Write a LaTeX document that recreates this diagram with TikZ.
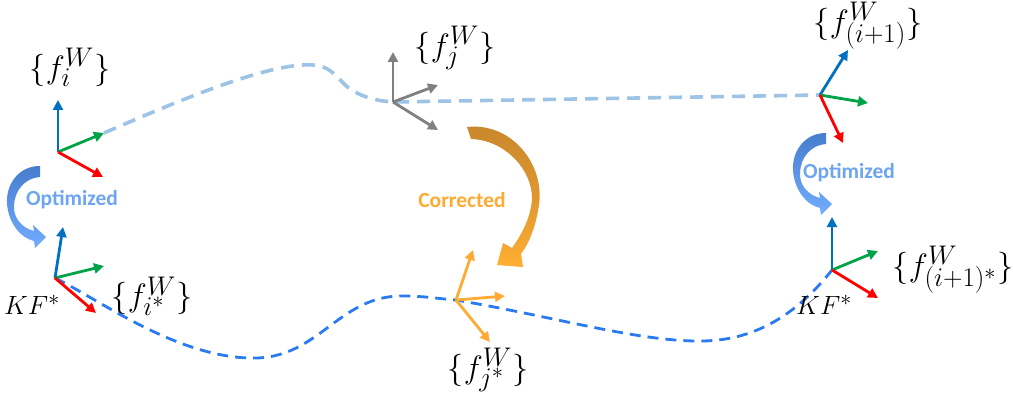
\documentclass[tikz,border=0pt]{standalone}
\usepackage{fontspec}
\newfontfamily\calib{Carlito}
\usetikzlibrary{arrows.meta}
\definecolor{axblue}{RGB}{0,112,192}
\definecolor{axgreen}{RGB}{0,163,72}
\definecolor{axred}{RGB}{255,0,0}
\definecolor{axgray}{RGB}{128,128,128}
\definecolor{axorange}{RGB}{255,170,50}
\definecolor{lightdash}{RGB}{157,195,230}
\definecolor{darkdash}{RGB}{42,122,240}
\definecolor{opttext}{RGB}{110,165,240}
\definecolor{optdark}{RGB}{70,125,205}
\definecolor{optlight}{RGB}{115,172,255}
\definecolor{cordark}{RGB}{200,135,45}
\definecolor{corlight}{RGB}{255,175,50}
\newcommand{\biglbl}[1]{\scalebox{1.3}{$#1$}}
\newcommand{\kflbl}[1]{\scalebox{1.06}{$#1$}}
\begin{document}
\begin{tikzpicture}[x=1pt,y=-1pt,
  axis/.style={line width=2.8pt,-{Triangle[length=10pt,width=10pt]}},
  lbl/.style={inner sep=0pt,font=\fontsize{24.88}{30}\selectfont},
  tag/.style={inner sep=0pt,font=\fontsize{21.5}{25}\selectfont\calib\bfseries},
  optarrow/.pic={\path[top color=optdark,bottom color=optlight]
    (0,0) .. controls (-22,0) and (-34,19) .. (-33,37)
    .. controls (-32,56) and (-20,72) .. (-6,75) -- (-5,82) -- (6,71) -- (-7,59) -- (-6,65)
    .. controls (-18,62) and (-27,52) .. (-26,39)
    .. controls (-25,24) and (-15,12) .. (0,11) -- cycle;}
]
\useasboundingbox (0,0) rectangle (1013,404);
% frame origins and tips
\coordinate (o1) at (58,152);  \coordinate (o1b) at (58,100); \coordinate (o1g) at (104,133); \coordinate (o1r) at (103,177);
\coordinate (o2) at (55,278);  \coordinate (o2b) at (63,227); \coordinate (o2g) at (104,266); \coordinate (o2r) at (96,313);
\coordinate (oj) at (393,102); \coordinate (oja) at (393,52); \coordinate (ojb) at (438,85); \coordinate (ojc) at (438,130);
\coordinate (os) at (456,300); \coordinate (osa) at (473,250); \coordinate (osb) at (505,296); \coordinate (osc) at (490,342);
\coordinate (o3) at (820,95);  \coordinate (o3b) at (848,50); \coordinate (o3g) at (868,103); \coordinate (o3r) at (843,143);
\coordinate (o4) at (832,270); \coordinate (o4b) at (832,217); \coordinate (o4g) at (878,251); \coordinate (o4r) at (878,298);
% dashed trajectories
\draw[lightdash,line width=3.6pt,dash pattern=on 13pt off 8pt]
  (o1g) .. controls (180,100) and (270,62) .. (313,65)
  .. controls (335,66) and (340,85) .. (355,92)
  .. controls (368,99) and (380,101) .. (oj) -- (o3);
\draw[darkdash,line width=2.8pt,dash pattern=on 11pt off 7pt]
  (o2) .. controls (100,300) and (180,360) .. (257,358)
  .. controls (320,356) and (340,295) .. (403,296)
  .. controls (425,296) and (440,299) .. (os)
  .. controls (560,318) and (640,342) .. (703,341)
  .. controls (760,340) and (800,310) .. (o4);
% frames
\draw[axis,axblue] (o1) -- (o1b); \draw[axis,axgreen] (o1) -- (o1g); \draw[axis,axred] (o1) -- (o1r);
\draw[axis,axblue] (o2) -- (o2b); \draw[axis,axgreen] (o2) -- (o2g); \draw[axis,axred] (o2) -- (o2r);
\draw[axis,axgray] (oj) -- (oja); \draw[axis,axgray] (oj) -- (ojb); \draw[axis,axgray] (oj) -- (ojc);
\draw[axis,axorange] (os) -- (osa); \draw[axis,axorange] (os) -- (osb); \draw[axis,axorange] (os) -- (osc);
\draw[axis,axblue] (o3) -- (o3b); \draw[axis,axgreen] (o3) -- (o3g); \draw[axis,axred] (o3) -- (o3r);
\draw[axis,axblue] (o4) -- (o4b); \draw[axis,axgreen] (o4) -- (o4g); \draw[axis,axred] (o4) -- (o4r);
% curved arrows
\pic at (40,166) {optarrow};
\pic at (826,133) {optarrow};
\path[top color=cordark,bottom color=corlight,middle color=cordark!60!corlight]
  (467,127) .. controls (512,122) and (545,165) .. (539,205)
  .. controls (536,225) and (530,242) .. (521,254) -- (523,267) -- (497,265) -- (503,243) -- (512,248)
  .. controls (521,235) and (530,220) .. (532,200)
  .. controls (533,170) and (505,140) .. (471,139) -- cycle;
% texts
\node[tag,text=opttext] (t1) at (72,200) {Optimized};
\node[tag,text=opttext] (t2) at (849,173) {Optimized};
\node[tag,text=axorange] (t3) at (462,200) {Corrected};
\node[lbl] (l1) at (70,67) {\biglbl{\{f_{i}^{W}\}}};
\node[lbl] (l2) at (152,296) {\biglbl{\{f_{i^*}^{W}\}}};
\node[lbl] (l3) at (32,305) {\kflbl{KF^{*}}};
\node[lbl] (l4) at (455,48) {\biglbl{\{f_{j}^{W}\}}};
\node[lbl] (l5) at (488,370) {\biglbl{\{f_{j^*}^{W}\}}};
\node[lbl] (l6) at (868,26) {\biglbl{\{f_{(i+1)}^{W}\}}};
\node[lbl] (l7) at (953,270) {\biglbl{\{f_{(i+1)^*}^{W}\}}};
\node[lbl] (l8) at (824,305) {\kflbl{KF^{*}}};
\end{tikzpicture}
\end{document}
